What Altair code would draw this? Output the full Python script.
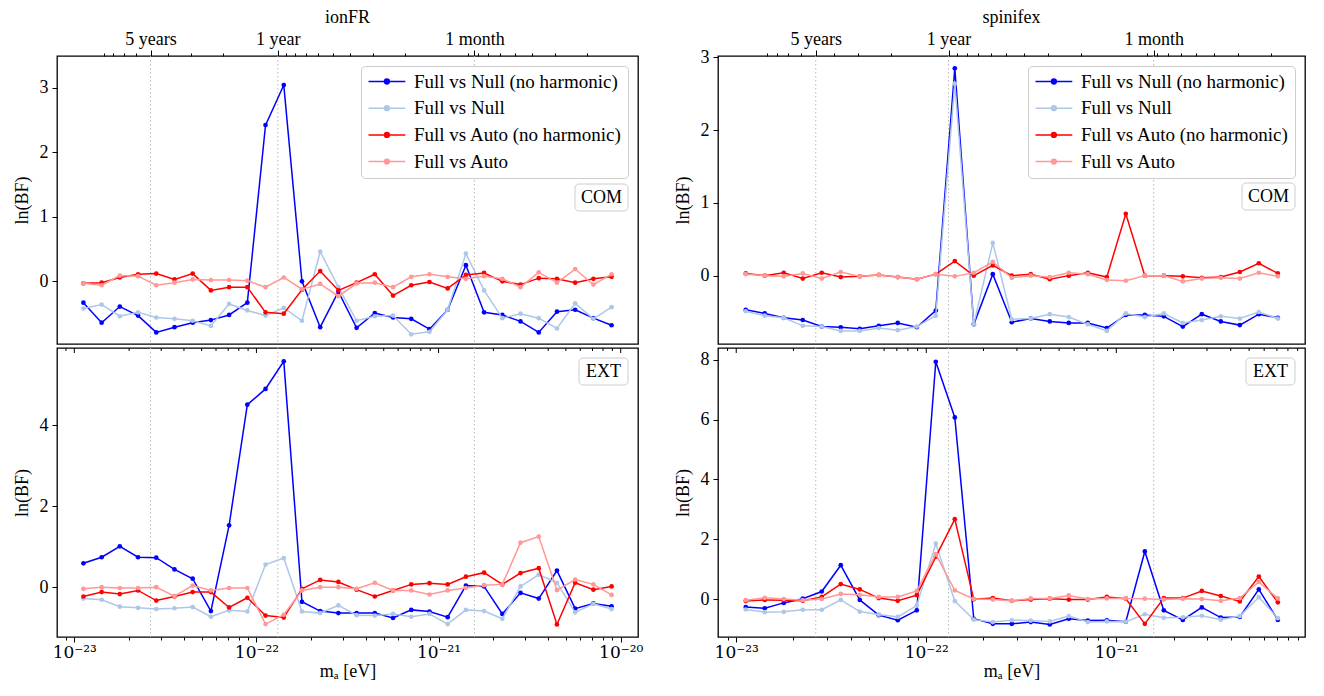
import altair as alt
import pandas as pd

FONT = "Liberation Serif"
TICK_FONT = "DejaVu Serif"

# ---------------- data ----------------
MASS_IONFR = [1.122e-23, 1.413e-23, 1.778e-23, 2.239e-23, 2.818e-23, 3.548e-23, 4.467e-23, 5.623e-23, 7.079e-23, 8.913e-23,
              1.122e-22, 1.413e-22, 1.778e-22, 2.239e-22, 2.818e-22, 3.548e-22, 4.467e-22, 5.623e-22, 7.079e-22, 8.913e-22,
              1.122e-21, 1.413e-21, 1.778e-21, 2.239e-21, 2.818e-21, 3.548e-21, 4.467e-21, 5.623e-21, 7.079e-21, 8.913e-21]
MASS_SPINIFEX = [1.122e-23, 1.413e-23, 1.778e-23, 2.239e-23, 2.818e-23, 3.548e-23, 4.467e-23, 5.623e-23, 7.079e-23, 8.913e-23,
                 1.122e-22, 1.413e-22, 1.778e-22, 2.239e-22, 2.818e-22, 3.548e-22, 4.467e-22, 5.623e-22, 7.079e-22, 8.913e-22,
                 1.122e-21, 1.413e-21, 1.778e-21, 2.239e-21, 2.818e-21, 3.548e-21, 4.467e-21, 5.623e-21, 7.079e-21]

SERIES = ["Full vs Null (no harmonic)", "Full vs Null", "Full vs Auto (no harmonic)", "Full vs Auto"]
COLORS = ["#0000ff", "#aec7e8", "#ff0000", "#ff9896"]

IONFR_COM_NULL_NOH = [-0.33, -0.64, -0.39, -0.53, -0.79, -0.71, -0.64, -0.60, -0.52, -0.33, 2.42, 3.04, 0.00, -0.71, -0.16,
                      -0.72, -0.49, -0.56, -0.58, -0.74, -0.44, 0.25, -0.48, -0.52, -0.62, -0.79, -0.47, -0.44, -0.57, -0.68]
IONFR_COM_NULL = [-0.42, -0.36, -0.54, -0.48, -0.56, -0.58, -0.61, -0.69, -0.35, -0.45, -0.53, -0.41, -0.61, 0.46, -0.09,
                  -0.61, -0.54, -0.53, -0.82, -0.78, -0.44, 0.43, -0.14, -0.57, -0.50, -0.57, -0.73, -0.34, -0.58, -0.40]
IONFR_COM_AUTO_NOH = [-0.03, -0.02, 0.06, 0.11, 0.12, 0.03, 0.12, -0.14, -0.09, -0.09, -0.48, -0.50, -0.13, 0.16, -0.14,
                      -0.02, 0.11, -0.22, -0.06, -0.01, -0.11, 0.10, 0.13, 0.00, -0.05, 0.05, 0.04, -0.02, 0.04, 0.07]
IONFR_COM_AUTO = [-0.03, -0.06, 0.09, 0.08, -0.06, -0.02, 0.03, 0.02, 0.02, 0.01, -0.09, 0.06, -0.12, -0.04, -0.23,
                  -0.03, -0.02, -0.09, 0.07, 0.11, 0.07, 0.04, 0.08, 0.04, -0.09, 0.14, -0.02, 0.19, -0.05, 0.11]

IONFR_EXT_NULL_NOH = [0.59, 0.74, 1.01, 0.74, 0.73, 0.44, 0.21, -0.59, 1.53, 4.51, 4.90, 5.58, -0.36, -0.59, -0.64,
                      -0.64, -0.64, -0.76, -0.56, -0.60, -0.74, 0.04, 0.02, -0.66, -0.14, -0.28, 0.41, -0.53, -0.40, -0.47]
IONFR_EXT_NULL = [-0.28, -0.31, -0.48, -0.51, -0.54, -0.52, -0.49, -0.73, -0.57, -0.60, 0.56, 0.72, -0.60, -0.64, -0.45,
                  -0.69, -0.70, -0.66, -0.73, -0.66, -0.91, -0.56, -0.59, -0.78, 0.02, 0.31, 0.11, -0.62, -0.41, -0.54]
IONFR_EXT_AUTO_NOH = [-0.23, -0.12, -0.17, -0.08, -0.33, -0.23, -0.12, -0.12, -0.50, -0.26, -0.70, -0.75, -0.04, 0.18, 0.13,
                      -0.06, -0.23, -0.08, 0.07, 0.10, 0.07, 0.26, 0.36, 0.07, 0.35, 0.47, -0.92, 0.11, -0.06, 0.02]
IONFR_EXT_AUTO = [-0.04, 0.00, -0.02, -0.02, 0.00, -0.22, 0.04, -0.08, -0.02, -0.02, -0.91, -0.68, -0.08, 0.00, 0.00,
                  -0.04, 0.11, -0.08, -0.08, -0.18, -0.08, -0.02, 0.05, 0.07, 1.10, 1.25, -0.07, 0.19, 0.07, -0.19]

SPINIFEX_COM_NULL_NOH = [-0.47, -0.52, -0.58, -0.61, -0.70, -0.71, -0.73, -0.69, -0.65, -0.71, -0.48, 2.85, -0.67, 0.02, -0.64,
                         -0.59, -0.63, -0.65, -0.65, -0.72, -0.54, -0.54, -0.56, -0.70, -0.53, -0.63, -0.68, -0.53, -0.58]
SPINIFEX_COM_NULL = [-0.49, -0.55, -0.58, -0.69, -0.70, -0.76, -0.76, -0.72, -0.75, -0.70, -0.55, 2.64, -0.67, 0.45, -0.60,
                     -0.59, -0.53, -0.57, -0.67, -0.76, -0.52, -0.57, -0.52, -0.65, -0.61, -0.56, -0.59, -0.50, -0.59]
SPINIFEX_COM_AUTO_NOH = [0.03, 0.00, 0.04, -0.04, 0.04, -0.02, -0.01, 0.01, -0.02, -0.05, 0.02, 0.20, 0.00, 0.14, 0.00,
                         0.02, -0.05, 0.00, 0.04, -0.02, 0.85, 0.00, 0.00, -0.01, -0.03, -0.02, 0.05, 0.17, 0.03]
SPINIFEX_COM_AUTO = [0.02, 0.00, -0.01, 0.03, -0.04, 0.05, -0.01, 0.01, -0.02, -0.05, 0.02, -0.01, 0.04, 0.19, -0.03,
                     0.00, -0.02, 0.04, 0.02, -0.06, -0.07, 0.00, 0.00, -0.08, -0.04, -0.03, -0.04, 0.04, -0.01]

SPINIFEX_EXT_NULL_NOH = [-0.27, -0.31, -0.13, 0.01, 0.25, 1.13, -0.03, -0.54, -0.71, -0.38, 7.93, 6.07, -0.66, -0.83, -0.83,
                         -0.77, -0.85, -0.66, -0.72, -0.71, -0.76, 1.59, -0.38, -0.70, -0.28, -0.62, -0.60, 0.32, -0.70]
SPINIFEX_EXT_NULL = [-0.35, -0.44, -0.43, -0.36, -0.36, -0.03, -0.42, -0.52, -0.60, -0.22, 1.85, -0.07, -0.69, -0.77, -0.71,
                     -0.72, -0.75, -0.57, -0.77, -0.75, -0.76, -0.51, -0.63, -0.61, -0.56, -0.69, -0.57, 0.06, -0.64]
SPINIFEX_EXT_AUTO_NOH = [-0.07, -0.03, -0.04, -0.06, 0.07, 0.50, 0.32, 0.03, -0.06, 0.13, 1.41, 2.67, -0.01, 0.03, -0.06,
                         -0.02, 0.01, -0.02, -0.02, 0.07, 0.01, -0.83, 0.03, 0.03, 0.27, 0.10, -0.08, 0.75, -0.11]
SPINIFEX_EXT_AUTO = [-0.04, 0.04, 0.00, -0.04, 0.00, 0.17, 0.14, 0.07, 0.07, 0.27, 1.50, 0.29, 0.00, -0.02, -0.06,
                     0.02, 0.02, 0.12, 0.00, 0.02, 0.02, 0.01, -0.02, 0.01, 0.00, -0.06, 0.03, 0.57, 0.02]

# periods marked on the top axis / dotted lines
PERIOD_YEARS = [5, 1, 1 / 12]
PERIOD_LABELS = ["5 years", "1 year", "1 month"]
PERIOD_MINOR_YEARS = [k * 10.0 ** e for e in (0, -1, -2) for k in range(2, 10) if not (e == 0 and k == 5)]

X_MAJOR = [1e-23, 1e-22, 1e-21, 1e-20]
X_MAJOR_LABELS = ["10⁻²³", "10⁻²²", "10⁻²¹", "10⁻²⁰"]
X_MINOR = [k * 10.0 ** e for e in range(-24, -19) for k in range(2, 10)]

H_EV_S = 4.135667696e-15
YEAR_S = 3.15576e7


def period_to_mass(years):
    return H_EV_S / (years * YEAR_S)


def is_value(v):
    return f"abs(datum.value / {v:.8e} - 1) < 1e-3"


def label_expr(values, labels):
    expr = "''"
    for v, lab in reversed(list(zip(values, labels))):
        expr = f"{is_value(v)} ? '{lab}' : ({expr})"
    return expr


def major_test(values):
    return " || ".join(is_value(v) for v in values)


LEGEND_SYMBOL = ("M-1,0L3.6,0"
                 "M1,0A0.3,0.3,0,1,0,1.6,0A0.3,0.3,0,1,0,1,0Z"
                 "M1.18,0A0.12,0.12,0,1,0,1.42,0A0.12,0.12,0,1,0,1.18,0Z")


def make_panel(masses, series_values, x_dom, y_dom, y_ticks, width, height, is_top, tag, tag_y, tag_w, title=None):
    rows = []
    for name, vals in zip(SERIES, series_values):
        for m, v in zip(masses, vals):
            rows.append({"mass": m, "lnbf": v, "series": name})
    df = pd.DataFrame(rows)

    xs = alt.Scale(type="log", domain=x_dom, nice=False)
    ys = alt.Scale(domain=y_dom, nice=False, zero=False)
    cs = alt.Scale(domain=SERIES, range=COLORS)

    def inside(v):
        return x_dom[0] <= v <= x_dom[1]

    mass_major = [v for v in X_MAJOR if inside(v)]
    mass_minor = [v for v in X_MINOR if inside(v)]
    period_masses = [period_to_mass(y) for y in PERIOD_YEARS]

    if is_top:
        top_vals = [v for v in period_masses + [period_to_mass(y) for y in PERIOD_MINOR_YEARS] if inside(v)]
        x_axis = alt.Axis(
            orient="top", values=top_vals,
            labelExpr=label_expr(period_masses, PERIOD_LABELS),
            tickSize={"condition": {"test": major_test(period_masses), "value": 6}, "value": 3},
            labelPadding=2, labelOverlap=False, labelFlush=False, labelBound=False, title=None,
        )
    else:
        x_axis = alt.Axis(
            orient="bottom", values=mass_major + mass_minor,
            labelExpr=label_expr(X_MAJOR, X_MAJOR_LABELS), labelFont=TICK_FONT, labelFontSize=17,
            tickSize={"condition": {"test": major_test(X_MAJOR), "value": 5}, "value": 3},
            labelPadding=2, labelOverlap=False, labelFlush=False, labelBound=False,
            title="mₐ [eV]", titlePadding=2,
        )
    y_axis = alt.Axis(orient="left", values=y_ticks, tickSize=5, labelPadding=4, title="ln(BF)", titlePadding=8)

    def X():
        return alt.X("mass:Q", scale=xs, axis=x_axis)

    def Y():
        return alt.Y("lnbf:Q", scale=ys, axis=y_axis)

    lines_df = pd.DataFrame({"mass": period_masses, "label": PERIOD_LABELS})
    layers = [alt.Chart(lines_df).mark_rule(color="#b8b8b8", strokeDash=[1.5, 2.5], strokeWidth=1).encode(x=X())]

    if not is_top:
        # ticks of the upper panel's bottom edge (pointing into this panel)
        layers.append(alt.Chart(pd.DataFrame({"mass": mass_major})).mark_rule(color="#000000", strokeWidth=1).encode(
            x=X(), y=alt.value(0), y2=alt.value(5)))
        layers.append(alt.Chart(pd.DataFrame({"mass": mass_minor})).mark_rule(color="#000000", strokeWidth=1).encode(
            x=X(), y=alt.value(0), y2=alt.value(3)))

    legend = alt.Legend(
        title=None, orient="top-right", offset=10, symbolType=LEGEND_SYMBOL, symbolSize=256,
        symbolStrokeWidth=1.5, labelFont=FONT, labelFontSize=19, labelLimit=400, labelOffset=28,
        padding=6, rowPadding=6.7, strokeColor="#cccccc", fillColor="white", cornerRadius=4, labelColor="#000000",
    )

    for i, name in enumerate(SERIES):
        sub = df[df["series"] == name]
        line = alt.Chart(sub).mark_line(strokeWidth=1.5).encode(
            x=X(), y=Y(),
            color=alt.Color("series:N", scale=cs, legend=legend if (i == 0 and is_top) else None),
        )
        pts = alt.Chart(sub).mark_point(filled=True, size=22, opacity=1).encode(
            x=X(), y=Y(),
            fill=alt.Fill("series:N", scale=cs, legend=None),
        )
        layers += [line, pts]

    tag_df = pd.DataFrame({"tag": [tag]})
    box = alt.Chart(tag_df).mark_rect(fill="white", stroke="#cccccc", strokeWidth=1, cornerRadius=4).encode(
        x=alt.value(width - 10 - tag_w), x2=alt.value(width - 10),
        y=alt.value(tag_y), y2=alt.value(tag_y + 27),
    )
    txt = alt.Chart(tag_df).mark_text(font=FONT, fontSize=18, color="#000000", align="center", baseline="middle").encode(
        x=alt.value(width - 10 - tag_w / 2), y=alt.value(tag_y + 14), text="tag:N"
    )
    layers += [box, txt]

    props = dict(width=width, height=height)
    if title is not None:
        props["title"] = alt.TitleParams(title, font=FONT, fontSize=18, fontWeight="normal", offset=3, color="#000000")
    return alt.layer(*layers).properties(**props)


LEFT_X = [10 ** -23.095, 10 ** -19.905]
RIGHT_X = [10 ** -23.096, 10 ** -20.007]

tl = make_panel(MASS_IONFR, [IONFR_COM_NULL_NOH, IONFR_COM_NULL, IONFR_COM_AUTO_NOH, IONFR_COM_AUTO],
                LEFT_X, [-0.97, 3.49], [0, 1, 2, 3], 581, 288, True, "COM", 128, 53, title="ionFR")
bl = make_panel(MASS_IONFR, [IONFR_EXT_NULL_NOH, IONFR_EXT_NULL, IONFR_EXT_AUTO_NOH, IONFR_EXT_AUTO],
                LEFT_X, [-1.23, 5.91], [0, 2, 4], 581, 289, False, "EXT", 10, 49)
tr = make_panel(MASS_SPINIFEX, [SPINIFEX_COM_NULL_NOH, SPINIFEX_COM_NULL, SPINIFEX_COM_AUTO_NOH, SPINIFEX_COM_AUTO],
                RIGHT_X, [-0.94, 3.02], [0, 1, 2, 3], 587, 288, True, "COM", 127, 53, title="spinifex")
br = make_panel(MASS_SPINIFEX, [SPINIFEX_EXT_NULL_NOH, SPINIFEX_EXT_NULL, SPINIFEX_EXT_AUTO_NOH, SPINIFEX_EXT_AUTO],
                RIGHT_X, [-1.27, 8.39], [0, 2, 4, 6, 8], 587, 289, False, "EXT", 10, 49)


def column(a, b):
    return (alt.vconcat(a, b, spacing=0)
            .resolve_scale(color="independent", fill="independent", x="independent", y="independent")
            .resolve_legend(color="independent"))


chart = (
    alt.hconcat(column(tl, bl), column(tr, br), spacing=29)
    .resolve_scale(color="independent", fill="independent", x="independent", y="independent")
    .resolve_legend(color="independent")
    .properties(padding={"left": 4, "top": 0, "right": 0, "bottom": 0}, background="white")
    .configure_view(stroke="#000000", strokeWidth=1.3)
    .configure_axis(
        labelFont=FONT, titleFont=FONT, labelFontSize=18, titleFontSize=18, titleFontWeight="normal",
        labelColor="#000000", titleColor="#000000", tickColor="#000000", tickWidth=1, domain=False, grid=False,
    )
)

chart.save("out.html", embed_options={"renderer": "svg", "actions": False})
